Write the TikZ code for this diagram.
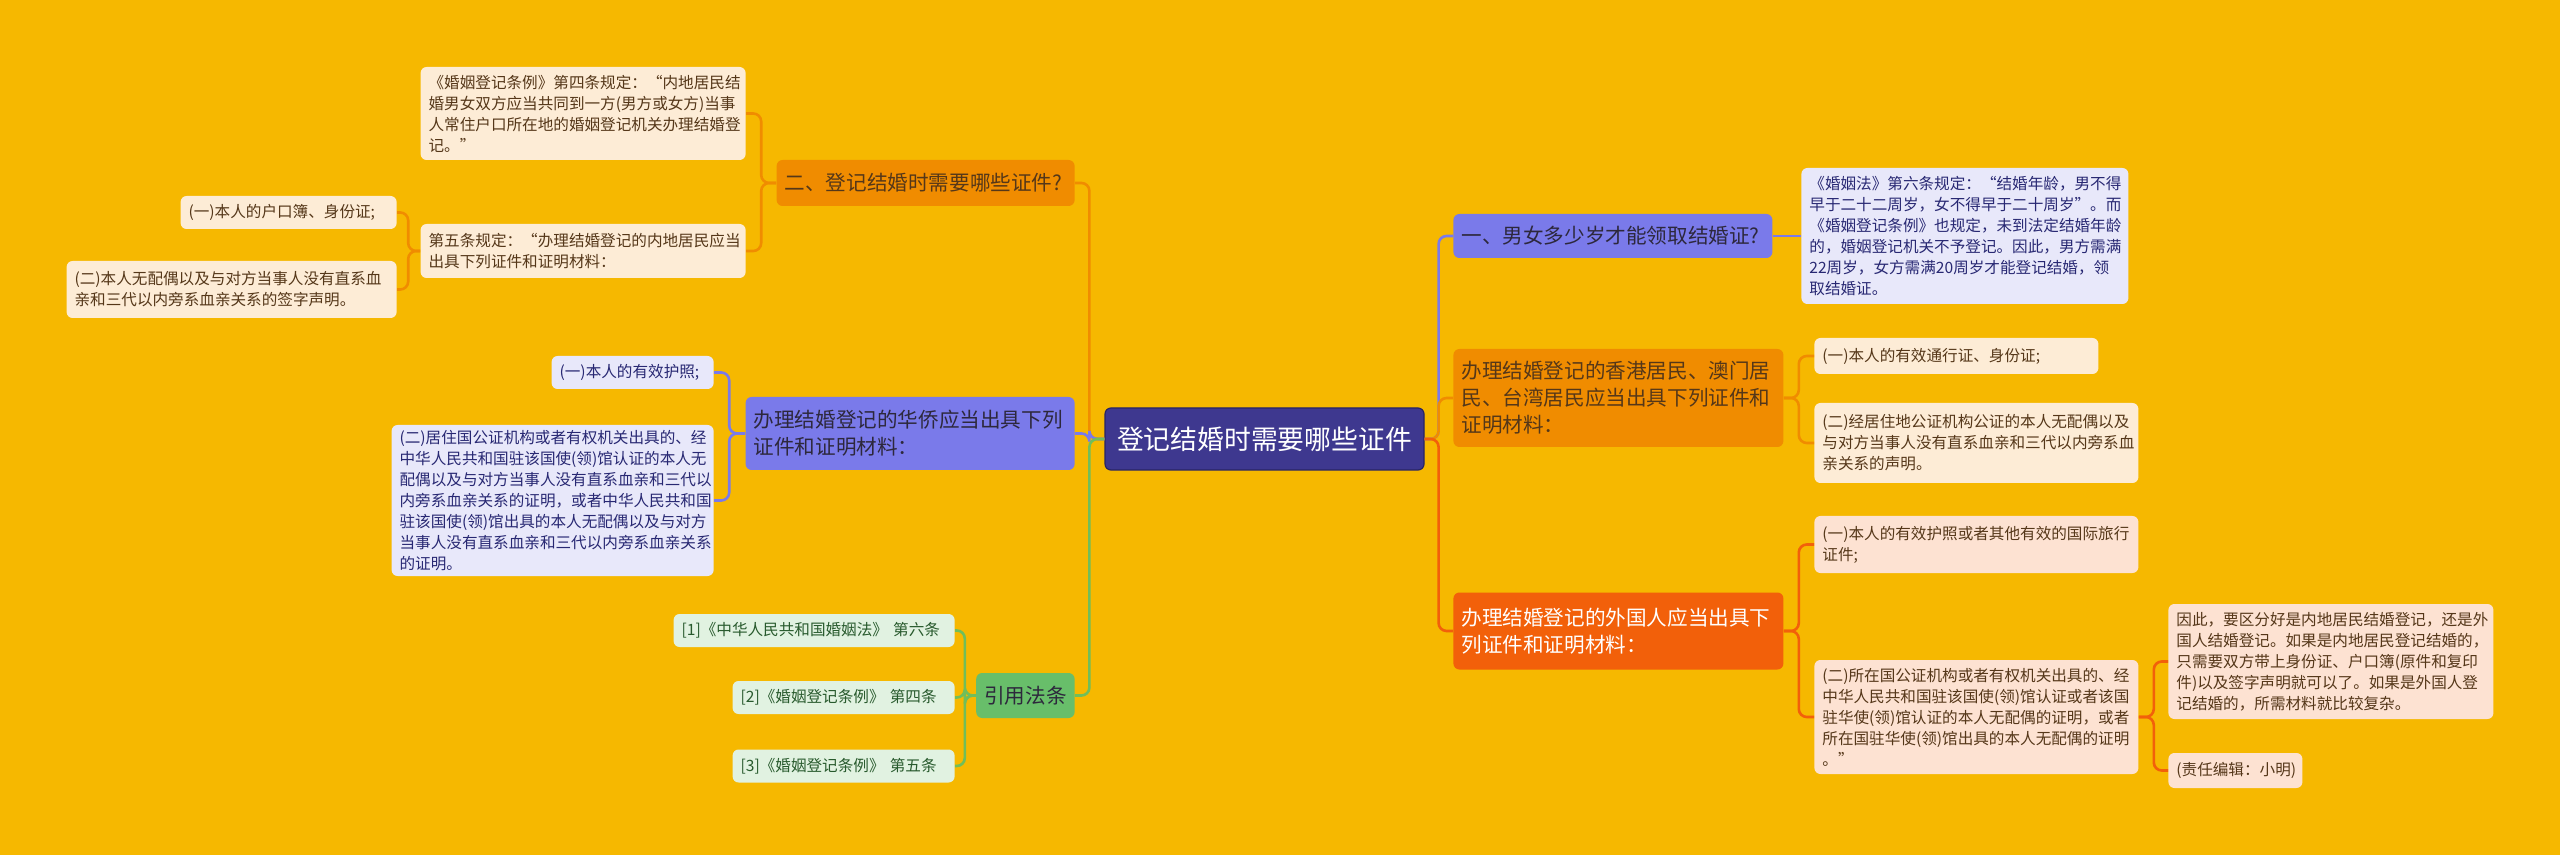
\documentclass[tikz,border=0pt]{standalone}
\usepackage{fontspec}
\setmainfont{Noto Sans CJK SC}
\usetikzlibrary{positioning}
\definecolor{paper}{RGB}{246,184,0}
\definecolor{indigo}{RGB}{62,56,143}
\definecolor{indigodk}{RGB}{40,36,100}
\definecolor{violet}{RGB}{122,122,234}
\definecolor{lavender}{RGB}{232,232,250}
\definecolor{amber}{RGB}{240,140,0}
\definecolor{cream}{RGB}{253,236,214}
\definecolor{flame}{RGB}{242,96,10}
\definecolor{peach}{RGB}{253,226,210}
\definecolor{leaf}{RGB}{104,190,106}
\definecolor{mint}{RGB}{225,242,225}
\definecolor{leafline}{RGB}{112,190,90}
\definecolor{ink}{RGB}{45,40,60}
\definecolor{navy}{RGB}{40,40,115}
\definecolor{umber}{RGB}{85,55,25}
\definecolor{forest}{RGB}{40,90,45}
\begin{document}
\begin{tikzpicture}[x=0.5pt,y=-0.5pt,base/.style={rounded corners=3pt,inner xsep=4pt,inner ysep=2pt,align=left},root/.style={base,fill=indigo,draw=indigodk,line width=.6pt,text=white,font=\fontsize{13.4}{16}\selectfont,minimum width=159.5pt,minimum height=31pt,align=center},topic/.style={base,font=\fontsize{10.3}{13.5}\selectfont},note/.style={base,font=\fontsize{7.8}{10.5}\selectfont},vbox/.style={fill=violet,text=ink},vnote/.style={fill=lavender,text=navy},abox/.style={fill=amber,text=umber},anote/.style={fill=cream,text=umber},fbox/.style={fill=flame,text=white},fnote/.style={fill=peach,text=umber},gbox/.style={fill=leaf,text=ink},gnote/.style={fill=mint,text=forest},link/.style={line width=1.3pt,rounded corners=4pt}]
\fill[paper] (0,0) rectangle (2560,855);
\useasboundingbox (0,0) rectangle (2560,855);
\node[root] (main) at (1264.5,439) {登记结婚时需要哪些证件};
\node[topic,vbox,text width=151.5pt,minimum height=22pt,anchor=west] (age) at (1453,236) {一、男女多少岁才能领取结婚证?};
\node[note,vnote,text width=155.5pt,minimum height=68pt,anchor=west] (agelaw) at (1801,236) {《婚姻法》第六条规定：“结婚年龄，男不得\\早于二十二周岁，女不得早于二十周岁”。而\\《婚姻登记条例》也规定，未到法定结婚年龄\\的，婚姻登记机关不予登记。因此，男方需满\\22周岁，女方需满20周岁才能登记结婚，领\\取结婚证。};
\node[topic,abox,text width=157pt,minimum height=49pt,anchor=west] (hk) at (1453,398) {办理结婚登记的香港居民、澳门居\\民、台湾居民应当出具下列证件和\\证明材料：};
\node[note,anote,text width=134pt,minimum height=18pt,anchor=west] (hkone) at (1814,356) {(一)本人的有效通行证、身份证;};
\node[note,anote,text width=154pt,minimum height=40pt,anchor=west] (hktwo) at (1814,443) {(二)经居住地公证机构公证的本人无配偶以及\\与对方当事人没有直系血亲和三代以内旁系血\\亲关系的声明。};
\node[topic,fbox,text width=157pt,minimum height=38.5pt,anchor=west] (alien) at (1453,631) {办理结婚登记的外国人应当出具下\\列证件和证明材料：};
\node[note,fnote,text width=154pt,minimum height=28.5pt,anchor=west] (alienone) at (1814,544.5) {(一)本人的有效护照或者其他有效的国际旅行\\证件;};
\node[note,fnote,text width=154pt,minimum height=57pt,anchor=west] (alientwo) at (1814,717) {(二)所在国公证机构或者有权机关出具的、经\\中华人民共和国驻该国使(领)馆认证或者该国\\驻华使(领)馆认证的本人无配偶的证明，或者\\所在国驻华使(领)馆出具的本人无配偶的证明\\。”};
\node[note,fnote,text width=154.5pt,minimum height=57.5pt,anchor=west] (summary) at (2168,661.5) {因此，要区分好是内地居民结婚登记，还是外\\国人结婚登记。如果是内地居民登记结婚的，\\只需要双方带上身份证、户口簿(原件和复印\\件)以及签字声明就可以了。如果是外国人登\\记结婚的，所需材料就比较复杂。};
\node[note,fnote,text width=59pt,minimum height=17.5pt,anchor=west] (editor) at (2168,770.5) {(责任编辑：小明)};
\node[topic,abox,text width=141pt,minimum height=23pt,anchor=east] (docs) at (1075,183) {二、登记结婚时需要哪些证件?};
\node[note,anote,text width=154.5pt,minimum height=46.5pt,anchor=east] (artfour) at (746,113.5) {《婚姻登记条例》第四条规定：“内地居民结\\婚男女双方应当共同到一方(男方或女方)当事\\人常住户口所在地的婚姻登记机关办理结婚登\\记。”};
\node[note,anote,text width=154.5pt,minimum height=27pt,anchor=east] (artfive) at (746,251) {第五条规定：“办理结婚登记的内地居民应当\\出具下列证件和证明材料：};
\node[note,anote,text width=100pt,minimum height=16.5pt,anchor=east] (hukou) at (397,212.5) {(一)本人的户口簿、身份证;};
\node[note,anote,text width=157pt,minimum height=28.5pt,anchor=east] (pledge) at (397,289.5) {(二)本人无配偶以及与对方当事人没有直系血\\亲和三代以内旁系血亲关系的签字声明。};
\node[topic,vbox,text width=156.5pt,minimum height=36.5pt,anchor=east] (abroad) at (1075,433.5) {办理结婚登记的华侨应当出具下列\\证件和证明材料：};
\node[note,vnote,text width=73pt,minimum height=16.5pt,anchor=east] (passport) at (714,372.5) {(一)本人的有效护照;};
\node[note,vnote,text width=153pt,minimum height=75.5pt,anchor=east] (proof) at (714,500.5) {(二)居住国公证机构或者有权机关出具的、经\\中华人民共和国驻该国使(领)馆认证的本人无\\配偶以及与对方当事人没有直系血亲和三代以\\内旁系血亲关系的证明，或者中华人民共和国\\驻该国使(领)馆出具的本人无配偶以及与对方\\当事人没有直系血亲和三代以内旁系血亲关系\\的证明。};
\node[topic,gbox,minimum width=49pt,minimum height=22.5pt,align=center,anchor=east] (laws) at (1075,695.5) {引用法条};
\node[note,gnote,text width=132.5pt,minimum height=16.5pt,anchor=east] (refone) at (955,630.5) {[1]《中华人民共和国婚姻法》~第六条};
\node[note,gnote,text width=103pt,minimum height=16.5pt,anchor=east] (reftwo) at (955,697.5) {[2]《婚姻登记条例》~第四条};
\node[note,gnote,text width=103pt,minimum height=16.5pt,anchor=east] (refthree) at (955,766) {[3]《婚姻登记条例》~第五条};
\draw[link,violet] (main.east) -- ++(14,0) |- (age.west);
\draw[link,amber] (main.east) -- ++(14,0) |- (hk.west);
\draw[link,flame] (main.east) -- ++(14,0) |- (alien.west);
\draw[link,violet] (age.east) -- (agelaw.west);
\draw[link,amber] (hk.east) -- ++(15,0) |- (hkone.west);\draw[link,amber] (hk.east) -- ++(15,0) |- (hktwo.west);
\draw[link,flame] (alien.east) -- ++(15,0) |- (alienone.west);\draw[link,flame] (alien.east) -- ++(15,0) |- (alientwo.west);
\draw[link,flame] (alientwo.east) -- ++(15,0) |- (summary.west);\draw[link,flame] (alientwo.east) -- ++(15,0) |- (editor.west);
\draw[link,amber] (main.west) -- ++(-15,0) |- (docs.east);
\draw[link,violet] (main.west) -- ++(-15,0) |- (abroad.east);
\draw[link,leafline] (main.west) -- ++(-15,0) |- (laws.east);
\draw[link,amber] (docs.west) -- ++(-15,0) |- (artfour.east);\draw[link,amber] (docs.west) -- ++(-15,0) |- (artfive.east);
\draw[link,amber] (artfive.west) -- ++(-12,0) |- (hukou.east);\draw[link,amber] (artfive.west) -- ++(-12,0) |- (pledge.east);
\draw[link,violet] (abroad.west) -- ++(-16,0) |- (passport.east);\draw[link,violet] (abroad.west) -- ++(-16,0) |- (proof.east);
\draw[link,leafline] (laws.west) -- ++(-11,0) |- (refone.east);\draw[link,leafline] (laws.west) -- ++(-11,0) |- (reftwo.east);\draw[link,leafline] (laws.west) -- ++(-11,0) |- (refthree.east);
\end{tikzpicture}
\end{document}
